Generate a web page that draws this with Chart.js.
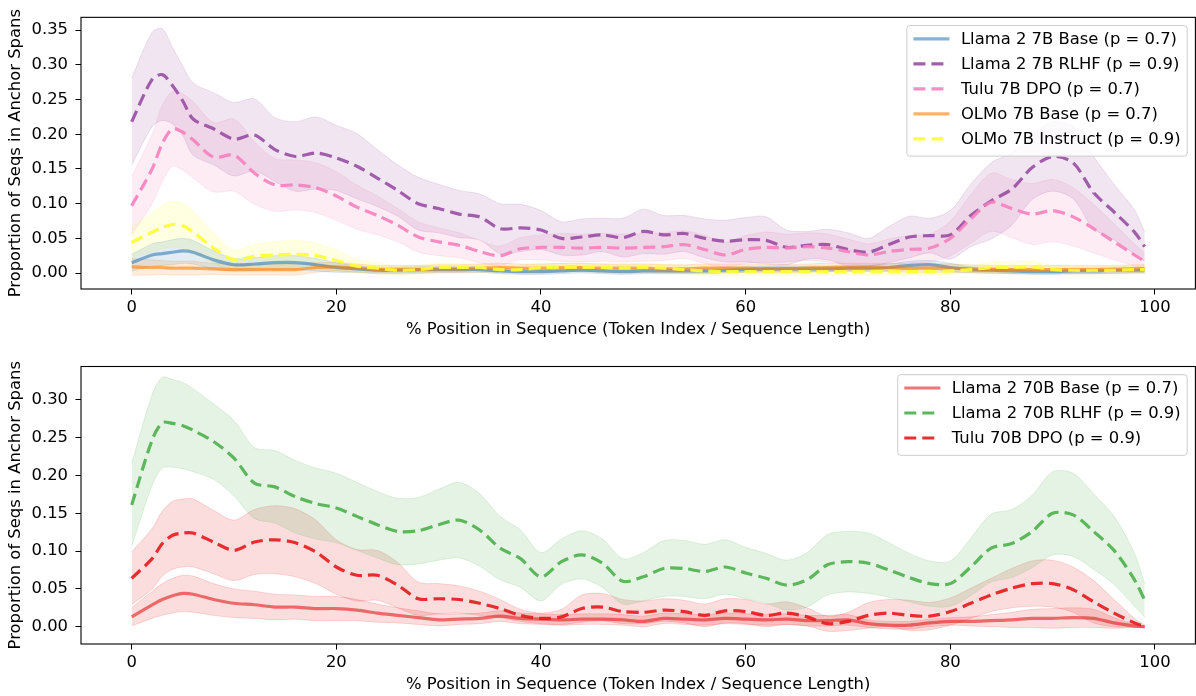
<!DOCTYPE html>
<html>
<head>
<meta charset="utf-8">
<script src="https://cdn.jsdelivr.net/npm/chart.js@4.4.0/dist/chart.umd.min.js"></script>
<style>
  html, body { margin: 0; padding: 0; background: #fff; }
  #page { position: relative; width: 1196px; height: 696px; }
  .panel { position: absolute; left: 0; width: 1196px; height: 348px; }
</style>
</head>
<body>
<div id="page">
  <div class="panel" style="top:0"><canvas id="top-chart" width="1196" height="348"></canvas></div>
  <div class="panel" style="top:348px"><canvas id="bottom-chart" width="1196" height="348"></canvas></div>
</div>
<script>
// x positions (% of sequence) shared by every series
const positions = [0, 2, 3, 4, 5, 6,
  8, 10, 12, 14, 16, 18, 20, 22, 24, 26,
  28, 30, 32, 34, 36, 38, 40, 42, 44, 46,
  48, 50, 52, 54, 56, 58, 60, 62, 64, 66,
  68, 70, 72, 74, 76, 78, 80, 82, 84, 86,
  88, 90, 92, 94, 96, 98, 99];

const xTicks = [0, 20, 40, 60, 80, 100];
const yTicksTop = [0, 0.05, 0.10, 0.15, 0.20, 0.25, 0.30, 0.35];
const yTicksBottom = [0, 0.05, 0.10, 0.15, 0.20, 0.25, 0.30];
const xTitle = '% Position in Sequence (Token Index / Sequence Length)';
const yTitle = 'Proportion of Seqs in Anchor Spans';

// --- 7B models (mean and half width of the band) ---
const llama7bBase = [0.015, 0.026, 0.028, 0.030, 0.032, 0.030,
  0.019, 0.012, 0.013, 0.015, 0.015, 0.012, 0.008, 0.006, 0.004, 0.004,
  0.005, 0.005, 0.005, 0.005, 0.003, 0.002, 0.002, 0.003, 0.004, 0.003,
  0.002, 0.003, 0.003, 0.003, 0.003, 0.004, 0.005, 0.006, 0.006, 0.006,
  0.006, 0.007, 0.007, 0.008, 0.011, 0.012, 0.008, 0.005, 0.004, 0.003,
  0.002, 0.002, 0.003, 0.003, 0.004, 0.004, 0.004];
const llama7bBaseCi = [0.012, 0.016, 0.017, 0.018, 0.018, 0.017,
  0.013, 0.009, 0.009, 0.010, 0.010, 0.009, 0.007, 0.005, 0.004, 0.004,
  0.004, 0.004, 0.004, 0.004, 0.004, 0.004, 0.004, 0.004, 0.004, 0.004,
  0.004, 0.004, 0.004, 0.004, 0.004, 0.004, 0.004, 0.004, 0.004, 0.004,
  0.004, 0.004, 0.004, 0.005, 0.006, 0.006, 0.006, 0.004, 0.004, 0.004,
  0.004, 0.004, 0.004, 0.004, 0.004, 0.004, 0.004];

const llama7bRlhf = [0.218, 0.279, 0.286, 0.270, 0.248, 0.222,
  0.208, 0.193, 0.199, 0.178, 0.168, 0.173, 0.166, 0.154, 0.137, 0.119,
  0.100, 0.093, 0.085, 0.081, 0.064, 0.065, 0.062, 0.050, 0.052, 0.055,
  0.051, 0.060, 0.055, 0.057, 0.050, 0.046, 0.048, 0.047, 0.037, 0.040,
  0.041, 0.034, 0.030, 0.041, 0.052, 0.054, 0.055, 0.083, 0.104, 0.121,
  0.152, 0.168, 0.159, 0.116, 0.088, 0.059, 0.038];
const llama7bRlhfCi = [0.063, 0.068, 0.066, 0.055, 0.050, 0.052,
  0.052, 0.053, 0.052, 0.046, 0.050, 0.052, 0.047, 0.047, 0.041, 0.037,
  0.038, 0.035, 0.034, 0.033, 0.036, 0.034, 0.028, 0.024, 0.026, 0.024,
  0.028, 0.032, 0.028, 0.026, 0.028, 0.030, 0.032, 0.034, 0.025, 0.020,
  0.022, 0.024, 0.020, 0.026, 0.030, 0.025, 0.035, 0.045, 0.055, 0.052,
  0.046, 0.050, 0.052, 0.052, 0.040, 0.032, 0.021];

const tulu7bDpo = [0.097, 0.150, 0.187, 0.208, 0.203, 0.192,
  0.167, 0.170, 0.144, 0.127, 0.127, 0.123, 0.111, 0.095, 0.083, 0.069,
  0.052, 0.045, 0.040, 0.031, 0.025, 0.035, 0.037, 0.037, 0.036, 0.037,
  0.036, 0.037, 0.038, 0.041, 0.034, 0.026, 0.034, 0.037, 0.036, 0.038,
  0.036, 0.031, 0.026, 0.031, 0.034, 0.036, 0.050, 0.078, 0.102, 0.093,
  0.085, 0.090, 0.081, 0.064, 0.045, 0.026, 0.017];
const tulu7bDpoCi = [0.042, 0.050, 0.055, 0.054, 0.055, 0.055,
  0.050, 0.052, 0.045, 0.038, 0.036, 0.036, 0.035, 0.032, 0.028, 0.024,
  0.022, 0.020, 0.018, 0.016, 0.014, 0.016, 0.018, 0.020, 0.020, 0.020,
  0.020, 0.020, 0.020, 0.020, 0.020, 0.018, 0.020, 0.022, 0.020, 0.020,
  0.020, 0.018, 0.016, 0.018, 0.020, 0.020, 0.025, 0.035, 0.042, 0.042,
  0.044, 0.045, 0.042, 0.035, 0.026, 0.016, 0.012];

const olmo7bBase = [0.009, 0.008, 0.008, 0.007, 0.007, 0.007,
  0.006, 0.005, 0.005, 0.005, 0.005, 0.008, 0.009, 0.007, 0.005, 0.005,
  0.005, 0.006, 0.006, 0.007, 0.008, 0.007, 0.007, 0.008, 0.008, 0.007,
  0.007, 0.007, 0.006, 0.006, 0.007, 0.007, 0.007, 0.006, 0.006, 0.007,
  0.008, 0.008, 0.008, 0.008, 0.007, 0.007, 0.007, 0.006, 0.005, 0.005,
  0.005, 0.005, 0.005, 0.005, 0.005, 0.006, 0.006];
const olmo7bBaseCi = [0.012, 0.011, 0.010, 0.010, 0.010, 0.010,
  0.008, 0.008, 0.008, 0.008, 0.008, 0.007, 0.006, 0.006, 0.006, 0.006,
  0.006, 0.006, 0.006, 0.006, 0.006, 0.006, 0.006, 0.006, 0.006, 0.006,
  0.006, 0.006, 0.006, 0.006, 0.006, 0.006, 0.006, 0.006, 0.006, 0.006,
  0.006, 0.006, 0.006, 0.006, 0.006, 0.006, 0.006, 0.006, 0.006, 0.006,
  0.006, 0.006, 0.006, 0.006, 0.006, 0.006, 0.006];

const olmo7bInstruct = [0.044, 0.059, 0.066, 0.070, 0.068, 0.059,
  0.036, 0.019, 0.024, 0.026, 0.027, 0.025, 0.018, 0.010, 0.007, 0.004,
  0.005, 0.008, 0.008, 0.008, 0.005, 0.005, 0.008, 0.008, 0.008, 0.008,
  0.007, 0.008, 0.007, 0.005, 0.003, 0.002, 0.002, 0.002, 0.002, 0.002,
  0.002, 0.002, 0.002, 0.002, 0.002, 0.002, 0.003, 0.005, 0.008, 0.008,
  0.009, 0.005, 0.004, 0.004, 0.004, 0.005, 0.005];
const olmo7bInstructCi = [0.022, 0.028, 0.031, 0.033, 0.032, 0.030,
  0.022, 0.014, 0.017, 0.019, 0.020, 0.018, 0.015, 0.010, 0.008, 0.006,
  0.006, 0.006, 0.006, 0.006, 0.006, 0.006, 0.006, 0.006, 0.006, 0.006,
  0.006, 0.006, 0.006, 0.006, 0.006, 0.006, 0.006, 0.006, 0.006, 0.006,
  0.005, 0.005, 0.005, 0.005, 0.005, 0.005, 0.005, 0.005, 0.008, 0.008,
  0.008, 0.006, 0.005, 0.005, 0.005, 0.005, 0.005];

// --- 70B models ---
const llama70bBase = [0.013, 0.029, 0.036, 0.041, 0.044, 0.043,
  0.036, 0.031, 0.029, 0.026, 0.026, 0.024, 0.024, 0.022, 0.018, 0.015,
  0.012, 0.009, 0.010, 0.011, 0.014, 0.011, 0.010, 0.009, 0.010, 0.010,
  0.009, 0.007, 0.011, 0.010, 0.009, 0.011, 0.010, 0.009, 0.010, 0.008,
  0.008, 0.009, 0.004, 0.002, 0.002, 0.005, 0.007, 0.007, 0.008, 0.009,
  0.011, 0.011, 0.012, 0.011, 0.005, 0.001, 0.000];
const llama70bBaseCi = [0.012, 0.018, 0.021, 0.023, 0.024, 0.024,
  0.021, 0.019, 0.018, 0.017, 0.016, 0.016, 0.016, 0.014, 0.012, 0.010,
  0.009, 0.008, 0.007, 0.007, 0.007, 0.007, 0.007, 0.007, 0.007, 0.007,
  0.007, 0.007, 0.007, 0.007, 0.007, 0.007, 0.007, 0.007, 0.007, 0.007,
  0.007, 0.007, 0.005, 0.005, 0.005, 0.005, 0.005, 0.006, 0.008, 0.010,
  0.012, 0.013, 0.013, 0.012, 0.007, 0.002, 0.001];

const llama70bRlhf = [0.161, 0.247, 0.270, 0.269, 0.266, 0.260,
  0.245, 0.223, 0.190, 0.185, 0.172, 0.163, 0.157, 0.146, 0.135, 0.126,
  0.127, 0.135, 0.141, 0.128, 0.104, 0.090, 0.066, 0.086, 0.095, 0.084,
  0.060, 0.066, 0.077, 0.077, 0.073, 0.079, 0.071, 0.064, 0.055, 0.062,
  0.082, 0.086, 0.084, 0.075, 0.065, 0.057, 0.057, 0.079, 0.104, 0.110,
  0.126, 0.150, 0.148, 0.126, 0.101, 0.062, 0.035];
const llama70bRlhfCi = [0.055, 0.060, 0.060, 0.058, 0.057, 0.055,
  0.050, 0.050, 0.047, 0.048, 0.048, 0.047, 0.046, 0.045, 0.044, 0.044,
  0.044, 0.047, 0.050, 0.048, 0.042, 0.038, 0.032, 0.030, 0.032, 0.032,
  0.030, 0.032, 0.037, 0.037, 0.036, 0.036, 0.034, 0.033, 0.033, 0.036,
  0.040, 0.040, 0.040, 0.036, 0.032, 0.030, 0.030, 0.038, 0.045, 0.045,
  0.048, 0.055, 0.055, 0.050, 0.045, 0.035, 0.022];

const tulu70bDpo = [0.064, 0.090, 0.110, 0.121, 0.124, 0.124,
  0.112, 0.101, 0.112, 0.115, 0.111, 0.099, 0.079, 0.068, 0.068, 0.055,
  0.037, 0.037, 0.036, 0.031, 0.024, 0.015, 0.011, 0.013, 0.024, 0.026,
  0.020, 0.019, 0.022, 0.020, 0.015, 0.021, 0.020, 0.015, 0.018, 0.013,
  0.004, 0.007, 0.015, 0.018, 0.015, 0.014, 0.020, 0.031, 0.042, 0.051,
  0.057, 0.057, 0.049, 0.033, 0.018, 0.005, 0.000];
const tulu70bDpoCi = [0.035, 0.040, 0.043, 0.045, 0.045, 0.045,
  0.042, 0.040, 0.043, 0.045, 0.045, 0.042, 0.036, 0.034, 0.033, 0.030,
  0.022, 0.020, 0.018, 0.016, 0.012, 0.008, 0.007, 0.010, 0.018, 0.018,
  0.016, 0.015, 0.015, 0.015, 0.015, 0.016, 0.016, 0.015, 0.015, 0.012,
  0.010, 0.012, 0.017, 0.018, 0.020, 0.018, 0.018, 0.020, 0.022, 0.026,
  0.030, 0.031, 0.030, 0.028, 0.018, 0.006, 0.002];

// series styling (Set1 palette)
const topSeries = [
  {label: 'Llama 2 7B Base (p = 0.7)', mean: llama7bBase, ci: llama7bBaseCi, rgb: [55, 126, 184], alpha: 0.6, dashed: false},
  {label: 'Llama 2 7B RLHF (p = 0.9)', mean: llama7bRlhf, ci: llama7bRlhfCi, rgb: [152, 78, 163], alpha: 0.9, dashed: true},
  {label: 'Tulu 7B DPO (p = 0.7)', mean: tulu7bDpo, ci: tulu7bDpoCi, rgb: [247, 129, 191], alpha: 0.9, dashed: true},
  {label: 'OLMo 7B Base (p = 0.7)', mean: olmo7bBase, ci: olmo7bBaseCi, rgb: [255, 127, 0], alpha: 0.6, dashed: false},
  {label: 'OLMo 7B Instruct (p = 0.9)', mean: olmo7bInstruct, ci: olmo7bInstructCi, rgb: [255, 255, 51], alpha: 0.9, dashed: true}
];
const bottomSeries = [
  {label: 'Llama 2 70B Base (p = 0.7)', mean: llama70bBase, ci: llama70bBaseCi, rgb: [228, 26, 28], alpha: 0.6, dashed: false},
  {label: 'Llama 2 70B RLHF (p = 0.9)', mean: llama70bRlhf, ci: llama70bRlhfCi, rgb: [77, 175, 74], alpha: 0.9, dashed: true},
  {label: 'Tulu 70B DPO (p = 0.9)', mean: tulu70bDpo, ci: tulu70bDpoCi, rgb: [228, 26, 28], alpha: 0.9, dashed: true}
];

const FONT_SIZE = 16.4;
const FONT = {family: '"DejaVu Sans", sans-serif', size: FONT_SIZE};
const DASH = [12, 6];
const BAND_ALPHA = 0.15;

function rgba(rgb, a) {
  return 'rgba(' + rgb[0] + ',' + rgb[1] + ',' + rgb[2] + ',' + a + ')';
}

function points(ys) {
  return positions.map((x, i) => ({x: x, y: ys[i]}));
}

// every series gets a band (upper filled down to lower) plus its mean line
function buildDatasets(series) {
  let bands = [], lines = [];
  series.forEach((s, k) => {
    let upper = s.mean.map((m, i) => m + s.ci[i]);
    let lower = s.mean.map((m, i) => m - s.ci[i]);
    let edge = rgba(s.rgb, BAND_ALPHA);
    bands.push({
      data: points(upper), fill: '+1', backgroundColor: rgba(s.rgb, BAND_ALPHA),
      borderColor: edge, borderWidth: 1, order: 100
    });
    bands.push({
      data: points(lower), fill: false, borderColor: edge, borderWidth: 1, order: 100
    });
    lines.push({
      label: s.label, data: points(s.mean), fill: false,
      borderColor: rgba(s.rgb, s.alpha), borderWidth: 3.2,
      borderDash: s.dashed ? DASH : [], order: series.length - k
    });
  });
  return bands.concat(lines);
}

// full box around the plotting area, like matplotlib spines
const axesFrame = {
  id: 'axesFrame',
  afterDatasetsDraw(chart) {
    const {ctx, chartArea: a} = chart;
    ctx.save();
    ctx.strokeStyle = '#000';
    ctx.lineWidth = 1.1;
    ctx.strokeRect(a.left, a.top, a.right - a.left, a.bottom - a.top);
    ctx.restore();
  }
};

// legend drawn inside the upper right corner of the plot
const insideLegend = {
  id: 'insideLegend',
  afterDraw(chart) {
    const items = chart.data.datasets.filter(d => d.label);
    const {ctx, chartArea: a} = chart;
    const fs = FONT_SIZE;
    const pad = 0.4 * fs, handle = 2.2 * fs, gap = 0.7 * fs, rowH = 25;
    ctx.save();
    ctx.font = fs + 'px ' + FONT.family;
    let textW = Math.max(...items.map(d => ctx.measureText(d.label).width));
    let w = pad + handle + gap + textW + pad;
    let h = 13.3 + (items.length - 1) * rowH + 17.3;
    let right = a.right - 0.5 * fs, top = a.top + 0.5 * fs;
    let left = right - w;
    ctx.beginPath();
    ctx.roundRect(left, top, w, h, 3);
    ctx.fillStyle = 'rgba(255,255,255,0.8)';
    ctx.fill();
    ctx.strokeStyle = '#cccccc';
    ctx.lineWidth = 1;
    ctx.stroke();
    items.forEach((d, i) => {
      let y = top + 13.3 + i * rowH;
      ctx.beginPath();
      ctx.setLineDash(d.borderDash || []);
      ctx.strokeStyle = d.borderColor;
      ctx.lineWidth = 3.2;
      ctx.moveTo(left + pad, y);
      ctx.lineTo(left + pad + handle, y);
      ctx.stroke();
      ctx.setLineDash([]);
      ctx.fillStyle = '#000';
      ctx.textBaseline = 'middle';
      ctx.textAlign = 'left';
      ctx.fillText(d.label, left + pad + handle + gap, y + 0.5);
    });
    ctx.restore();
  }
};

function makeOptions(yTicks, yMin, yMax, area) {
  const half = FONT_SIZE * 1.2 / 2;
  return {
    responsive: false,
    animation: false,
    devicePixelRatio: 1,
    layout: {padding: {top: area.top, right: area.canvasW - area.right, bottom: 0, left: 0}},
    elements: {point: {radius: 0}, line: {tension: 0.3}},
    plugins: {legend: {display: false}, tooltip: {enabled: false}},
    scales: {
      x: {
        type: 'linear', min: -4.95, max: 103.95,
        afterBuildTicks: s => { s.ticks = xTicks.map(v => ({value: v})); },
        afterFit: s => { s.height = area.canvasH - area.bottom; },
        border: {display: false},
        grid: {drawOnChartArea: false, drawTicks: true, tickLength: 5.5, tickColor: '#000', tickWidth: 1},
        ticks: {color: '#000', font: FONT, padding: 3.2, autoSkip: false, maxRotation: 0,
          callback: v => String(v)},
        title: {display: true, text: xTitle, color: '#000', font: FONT,
          padding: {top: 0, bottom: area.canvasH - area.xTitleY - half}}
      },
      y: {
        type: 'linear', min: yMin, max: yMax,
        afterBuildTicks: s => { s.ticks = yTicks.map(v => ({value: v})); },
        afterFit: s => { s.width = area.left; },
        border: {display: false},
        grid: {drawOnChartArea: false, drawTicks: true, tickLength: 5.5, tickColor: '#000', tickWidth: 1},
        ticks: {color: '#000', font: FONT, padding: 7.5, autoSkip: false,
          callback: v => v.toFixed(2)},
        title: {display: true, text: yTitle, color: '#000', font: FONT,
          padding: {top: area.yTitleX - half, bottom: 0}}
      }
    }
  };
}

Chart.defaults.font.family = FONT.family;
Chart.defaults.font.size = FONT_SIZE;

new Chart(document.getElementById('top-chart'), {
  type: 'line',
  data: {datasets: buildDatasets(topSeries)},
  options: makeOptions(yTicksTop, -0.023, 0.3686,
    {canvasW: 1196, canvasH: 348, left: 81, right: 1195.4, top: 11.7, bottom: 289, xTitleY: 330, yTitleX: 16}),
  plugins: [axesFrame, insideLegend]
});

new Chart(document.getElementById('bottom-chart'), {
  type: 'line',
  data: {datasets: buildDatasets(bottomSeries)},
  options: makeOptions(yTicksBottom, -0.0229, 0.3443,
    {canvasW: 1196, canvasH: 348, left: 81, right: 1195.4, top: 18.5, bottom: 296, xTitleY: 337, yTitleX: 16}),
  plugins: [axesFrame, insideLegend]
});
</script>
</body>
</html>
